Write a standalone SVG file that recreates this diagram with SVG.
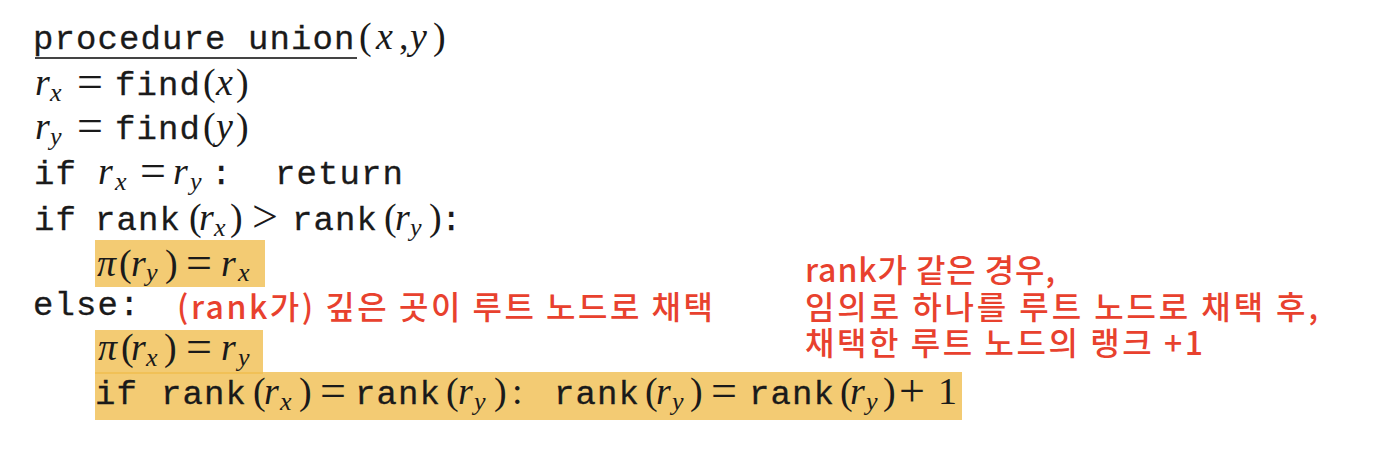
<svg xmlns="http://www.w3.org/2000/svg" width="1384" height="464" viewBox="0 0 1384 464">
<style>
.tt{font-family:"Liberation Mono","DejaVu Sans Mono",monospace;font-size:34px;letter-spacing:1.1px;fill:#1a1a1a;stroke:#1a1a1a;stroke-width:0.3px}
.m{font-family:"Liberation Serif","DejaVu Serif",serif;font-size:38px;fill:#1a1a1a}
.eq{font-family:"Liberation Serif","DejaVu Serif",serif;font-size:46px;fill:#1a1a1a}
.i{font-style:italic}
.s{font-family:"Liberation Serif","DejaVu Serif",serif;font-size:26px;font-style:italic;fill:#1a1a1a}
.hl{fill:#f0be50;fill-opacity:0.8}
.red{font-family:"Noto Sans CJK KR","Noto Sans",sans-serif;font-size:32px;font-weight:500;fill:#e8412e}
</style>
<rect width="1384" height="464" fill="#ffffff"/>
<g id="highlights">
<rect class="hl" x="95" y="240" width="170" height="47"/>
<rect class="hl" x="95" y="330" width="168" height="44"/>
<rect class="hl" x="95" y="372" width="867" height="48"/>
</g>
<g id="line1">
<text class="tt" x="33" y="49">procedure union</text>
<line x1="35" y1="58" x2="357" y2="58" stroke="#444" stroke-width="2"/>
<text class="m" y="49"><tspan x="359">(</tspan><tspan class="i" x="376">x</tspan><tspan x="399">,</tspan><tspan class="i" x="410">y</tspan><tspan x="433">)</tspan></text>
</g>
<g id="line2">
<text class="m i" x="35" y="95">r</text><text class="s" x="50" y="101">x</text>
<text class="eq" x="77" y="97">=</text>
<text class="tt" x="115" y="95">find</text>
<text class="m" y="95"><tspan x="203">(</tspan><tspan class="i" x="216">x</tspan><tspan x="236">)</tspan></text>
</g>
<g id="line3">
<text class="m i" x="35" y="139">r</text><text class="s" x="50" y="145">y</text>
<text class="eq" x="77" y="141">=</text>
<text class="tt" x="115" y="139">find</text>
<text class="m" y="139"><tspan x="203">(</tspan><tspan class="i" x="216">y</tspan><tspan x="236">)</tspan></text>
</g>
<g id="line4">
<text class="tt" x="34" y="184">if</text>
<text class="m i" x="98" y="184">r</text><text class="s" x="115" y="190">x</text>
<text class="eq" x="140" y="186">=</text>
<text class="m i" x="173" y="184">r</text><text class="s" x="190" y="190">y</text>
<text class="tt" x="211" y="184">:</text>
<text class="tt" x="275" y="184">return</text>
</g>
<g id="line5">
<text class="tt" x="34" y="230">if</text>
<text class="tt" x="95" y="230">rank</text>
<text class="m" x="189" y="230">(</text>
<text class="m i" x="199" y="230">r</text><text class="s" x="214" y="236">x</text>
<text class="m" x="230" y="230">)</text>
<text class="eq" x="252" y="232">&gt;</text>
<text class="tt" x="292" y="230">rank</text>
<text class="m" x="384" y="230">(</text>
<text class="m i" x="395" y="230">r</text><text class="s" x="410" y="236">y</text>
<text class="m" x="429" y="230">)</text>
<text class="tt" x="441" y="230">:</text>
</g>
<g id="line6">
<text class="m i" x="97" y="276">π</text>
<text class="m" x="119" y="276">(</text>
<text class="m i" x="131" y="276">r</text><text class="s" x="146" y="281">y</text>
<text class="m" x="165" y="276">)</text>
<text class="eq" x="186" y="278">=</text>
<text class="m i" x="221" y="276">r</text><text class="s" x="238" y="281">x</text>
</g>
<g id="line7">
<text class="tt" x="33" y="315">else:</text>
<text class="red" x="177" y="319" textLength="536">(rank가) 깊은 곳이 루트 노드로 채택</text>
</g>
<g id="line8">
<text class="m i" x="98" y="360">π</text>
<text class="m" x="121" y="360">(</text>
<text class="m i" x="131" y="360">r</text><text class="s" x="146" y="366">x</text>
<text class="m" x="164" y="360">)</text>
<text class="eq" x="186" y="362">=</text>
<text class="m i" x="221" y="360">r</text><text class="s" x="238" y="366">y</text>
</g>
<g id="line9">
<text class="tt" x="95" y="404">if</text>
<text class="tt" x="161" y="404">rank</text>
<text class="m" x="253" y="404">(</text>
<text class="m i" x="264" y="404">r</text><text class="s" x="280" y="410">x</text>
<text class="m" x="299" y="404">)</text>
<text class="eq" x="320" y="406">=</text>
<text class="tt" x="355" y="404">rank</text>
<text class="m" x="446" y="404">(</text>
<text class="m i" x="458" y="404">r</text><text class="s" x="474" y="410">y</text>
<text class="m" x="494" y="404">)</text>
<text class="m" x="512" y="404">:</text>
<text class="tt" x="554" y="404">rank</text>
<text class="m" x="645" y="404">(</text>
<text class="m i" x="656" y="404">r</text><text class="s" x="672" y="410">y</text>
<text class="m" x="690" y="404">)</text>
<text class="eq" x="711" y="406">=</text>
<text class="tt" x="749" y="404">rank</text>
<text class="m" x="840" y="404">(</text>
<text class="m i" x="850" y="404">r</text><text class="s" x="866" y="410">y</text>
<text class="m" x="883" y="404">)</text>
<text class="eq" x="899" y="406">+</text>
<text class="m" x="938" y="404">1</text>
</g>
<g id="note">
<text class="red" x="805" y="282" textLength="250">rank가 같은 경우,</text>
<text class="red" x="805" y="319" textLength="513">임의로 하나를 루트 노드로 채택 후,</text>
<text class="red" x="805" y="355" textLength="398">채택한 루트 노드의 랭크 +1</text>
</g>
</svg>
